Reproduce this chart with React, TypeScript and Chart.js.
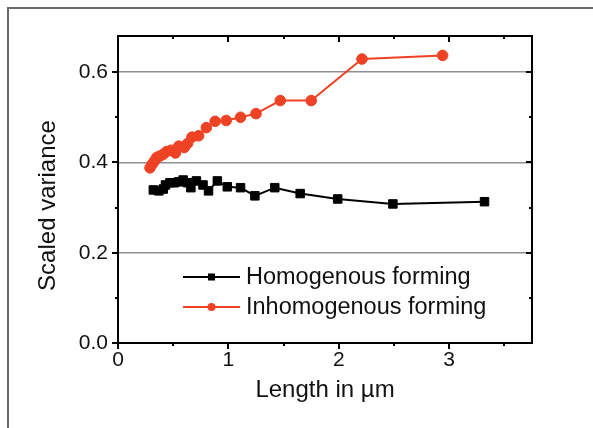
import React, { useEffect, useRef } from "react";
import { Chart, registerables } from "chart.js";

Chart.register(...registerables);

// ---- data ----
const seriesLabels = ["Homogenous forming", "Inhomogenous forming"];
const homX = [0.32, 0.37, 0.41, 0.43, 0.47, 0.51, 0.55, 0.59, 0.63, 0.66, 0.71, 0.77, 0.82, 0.9, 0.99, 1.11, 1.24, 1.42, 1.65, 1.99, 2.49, 3.32];
const homY = [0.339, 0.337, 0.341, 0.35, 0.355, 0.355, 0.357, 0.361, 0.355, 0.344, 0.359, 0.35, 0.337, 0.359, 0.346, 0.344, 0.326, 0.344, 0.331, 0.319, 0.308, 0.313];
const inhomX = [0.29, 0.31, 0.33, 0.35, 0.38, 0.41, 0.44, 0.48, 0.52, 0.55, 0.6, 0.63, 0.67, 0.73, 0.8, 0.88, 0.98, 1.11, 1.25, 1.47, 1.75, 2.21, 2.94];
const inhomY = [0.388, 0.396, 0.403, 0.411, 0.414, 0.418, 0.424, 0.427, 0.421, 0.436, 0.433, 0.442, 0.456, 0.459, 0.477, 0.491, 0.493, 0.5, 0.508, 0.537, 0.537, 0.629, 0.637];

const xTitle = "Length in µm";
const yTitle = "Scaled variance";
const xMajorTicks = [0, 1, 2, 3];
const xMinorTicks = [0.5, 1.5, 2.5, 3.5];
const yMajorTicks = [0, 0.2, 0.4, 0.6];
const yMinorTicks = [0.1, 0.3, 0.5];
const xRange = [0, 3.75];
const yRange = [0, 0.68];

const HOM_COLOR = "#000000";
const INHOM_COLOR = "#EE4224";
const FONT = "'Liberation Sans', Arial, sans-serif";

const decorPlugin = {
  id: "decor",
  afterDraw(chart: any) {
    const { ctx, chartArea: a, scales } = chart;
    const xs = scales.x;
    const ys = scales.y;
    ctx.save();
    // frame
    ctx.strokeStyle = "#000";
    ctx.lineWidth = 2;
    ctx.strokeRect(a.left, a.top, a.right - a.left, a.bottom - a.top);
    // ticks
    const drawX = (vals: number[], len: number) => {
      vals.forEach((v) => {
        const px = Math.round(xs.getPixelForValue(v));
        ctx.beginPath();
        ctx.moveTo(px, a.bottom);
        ctx.lineTo(px, a.bottom + len);
        ctx.moveTo(px, a.top);
        ctx.lineTo(px, a.top + len);
        ctx.stroke();
      });
    };
    const drawY = (vals: number[], len: number) => {
      vals.forEach((v) => {
        const py = Math.round(ys.getPixelForValue(v));
        ctx.beginPath();
        ctx.moveTo(a.left - len, py);
        ctx.lineTo(a.left, py);
        ctx.moveTo(a.right - len, py);
        ctx.lineTo(a.right, py);
        ctx.stroke();
      });
    };
    drawX(xMajorTicks, 6);
    drawX(xMinorTicks, 3);
    drawY(yMajorTicks, 6);
    drawY(yMinorTicks, 3);

    // y title
    ctx.save();
    ctx.fillStyle = "#111";
    ctx.font = `24px ${FONT}`;
    ctx.textAlign = "center";
    ctx.textBaseline = "middle";
    ctx.translate(a.left - 70, (a.top + a.bottom) / 2 + 16);
    ctx.rotate(-Math.PI / 2);
    ctx.fillText(yTitle, 0, 0);
    ctx.restore();

    // legend
    chart.data.datasets.forEach((ds: any, i: number) => {
      const y = a.bottom - 66 + 30 * i;
      const x0 = a.left + 65;
      const x1 = x0 + 57;
      ctx.strokeStyle = ds.borderColor;
      ctx.lineWidth = 2;
      ctx.beginPath();
      ctx.moveTo(x0, y);
      ctx.lineTo(x1, y);
      ctx.stroke();
      ctx.fillStyle = ds.backgroundColor;
      const mx = (x0 + x1) / 2;
      if (ds.pointStyle === "rect") {
        ctx.fillRect(mx - 3.5, y - 3.5, 7, 7);
      } else {
        ctx.beginPath();
        ctx.arc(mx, y, 4, 0, Math.PI * 2);
        ctx.fill();
      }
      ctx.fillStyle = "#111";
      ctx.font = `23.5px ${FONT}`;
      ctx.textAlign = "left";
      ctx.textBaseline = "middle";
      ctx.fillText(ds.label, x1 + 6, y + 1);
    });
    ctx.restore();
  },
};

export default function App() {
  const ref = useRef<HTMLCanvasElement>(null);
  useEffect(() => {
    if (!ref.current) return;
    const chart = new Chart(ref.current, {
      type: "scatter",
      data: {
        datasets: [
          {
            label: seriesLabels[0],
            data: homX.map((x, i) => ({ x, y: homY[i] })),
            showLine: true,
            borderColor: HOM_COLOR,
            backgroundColor: HOM_COLOR,
            borderWidth: 2,
            pointStyle: "rect",
            pointRadius: 6,
            pointBorderWidth: 1,
          },
          {
            label: seriesLabels[1],
            data: inhomX.map((x, i) => ({ x, y: inhomY[i] })),
            showLine: true,
            borderColor: INHOM_COLOR,
            backgroundColor: INHOM_COLOR,
            borderWidth: 2,
            pointStyle: "circle",
            pointRadius: 5.3,
            pointBorderWidth: 1,
          },
        ],
      },
      options: {
        animation: false,
        responsive: false,
        layout: { padding: { top: 36, right: 61, left: 0, bottom: 0 } },
        plugins: { legend: { display: false }, tooltip: { enabled: false } },
        scales: {
          x: {
            type: "linear",
            min: xRange[0],
            max: xRange[1],
            border: { display: false },
            grid: { display: false, drawTicks: false },
            ticks: {
              stepSize: 1,
              includeBounds: false,
              padding: 5,
              color: "#111",
              font: { family: FONT, size: 21 },
              callback: (v: any) => String(v),
              maxRotation: 0,
            },
            title: {
              display: true,
              text: xTitle,
              color: "#111",
              font: { family: FONT, size: 24 },
              padding: { top: 0, bottom: 23 },
            },
            afterFit: (s: any) => {
              s.height = 85;
            },
          },
          y: {
            type: "linear",
            min: yRange[0],
            max: yRange[1],
            border: { display: false },
            grid: {
              drawTicks: false,
              lineWidth: 1.5,
              color: (c: any) => (c.tick && c.tick.value === 0 ? "rgba(0,0,0,0)" : "#8f8f8f"),
            },
            ticks: {
              stepSize: 0.2,
              includeBounds: false,
              padding: 10,
              color: "#111",
              font: { family: FONT, size: 21 },
              callback: (v: any) => Number(v).toFixed(1),
            },
            afterFit: (s: any) => {
              s.width = 118;
            },
          },
        },
      },
      plugins: [decorPlugin],
    } as any);
    return () => chart.destroy();
  }, []);

  return (
    <div style={{ position: "fixed", left: 0, top: 0, width: 593, height: 428, overflow: "hidden", background: "#fff" }}>
      <div
        style={{
          position: "absolute",
          left: 7,
          top: 7,
          width: 600,
          height: 440,
          borderTop: "2px solid #6a6a6a",
          borderLeft: "2px solid #6a6a6a",
        }}
      />
      <canvas ref={ref} width={593} height={428} style={{ position: "absolute", left: 0, top: 0 }} />
    </div>
  );
}
